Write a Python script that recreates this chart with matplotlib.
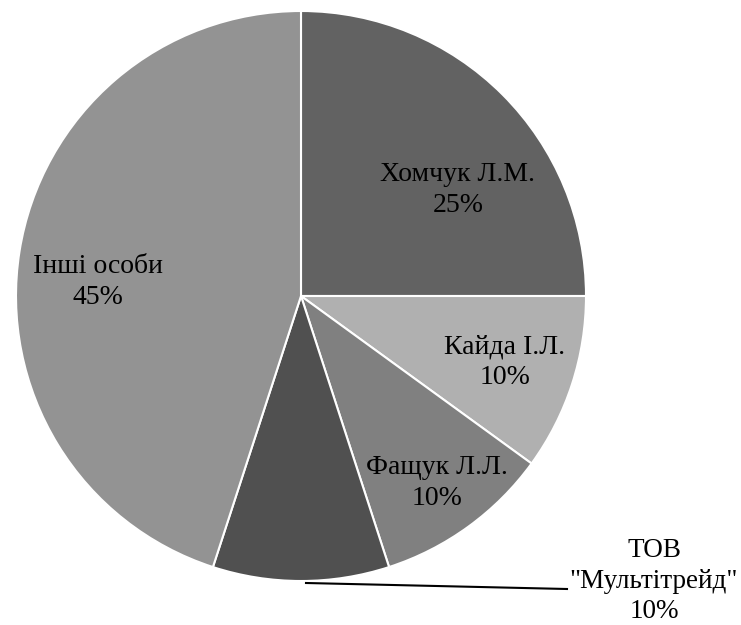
import matplotlib.pyplot as plt

labels = ['Хомчук Л.М.', 'Кайда І.Л.', 'Фащук Л.Л.', 'ТОВ\n"Мультітрейд"', 'Інші особи']
shares = [25, 10, 10, 10, 45]
colors = ['#626262', '#b0b0b0', '#808080', '#505050', '#939393']

plt.rcParams['font.family'] = ['Liberation Serif', 'DejaVu Serif']

fig = plt.figure(figsize=(7.41, 6.25), dpi=100)
ax = fig.add_axes([0, 0, 1, 1])

cx, cy, r = 301, 329, 285
ax.pie(shares, colors=colors, startangle=90, counterclock=False,
       center=(cx, cy), radius=r, frame=True,
       wedgeprops=dict(edgecolor='white', linewidth=1.5))
ax.set_xlim(0, 741)
ax.set_ylim(0, 625)
ax.set_aspect('equal')
ax.axis('off')

# label positions in pixels (x, y from top)
pos = [(458, 190), (505, 362), (437, 483), (654, 581), (98, 282)]
sizes = [20, 20, 20, 19.5, 20]
for lab, val, (x, y), fs in zip(labels, shares, pos, sizes):
    ax.text(x, 625 - y, f'{lab}\n{val}%', ha='center', va='center',
            fontsize=fs, linespacing=1.3, color='black')

# leader line for the small label
ax.plot([306, 567], [625 - 583, 625 - 589], color='black', lw=1.5)

fig.savefig('out.png', dpi=100)
